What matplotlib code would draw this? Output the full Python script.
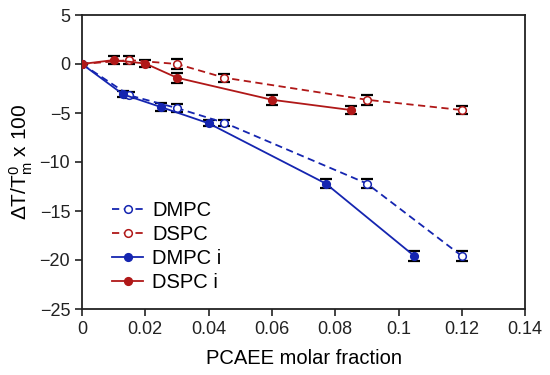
import matplotlib.pyplot as plt

plt.rcParams['font.family'] = ['Liberation Sans', 'DejaVu Sans']
plt.rcParams['mathtext.fontset'] = 'custom'
plt.rcParams['mathtext.rm'] = 'Liberation Sans'
plt.rcParams['mathtext.it'] = 'Liberation Sans'

# data
x_dmpc = [0, 0.015, 0.03, 0.045, 0.09, 0.12]
y_dmpc = [0, -3.2, -4.5, -6.0, -12.2, -19.6]
e_dmpc = [0, 0.3, 0.4, 0.3, 0.5, 0.5]

x_dspc = [0, 0.015, 0.03, 0.045, 0.09, 0.12]
y_dspc = [0, 0.4, 0.0, -1.4, -3.65, -4.7]
e_dspc = [0, 0.4, 0.5, 0.4, 0.5, 0.4]

x_dmpc_i = [0, 0.013, 0.025, 0.04, 0.077, 0.105]
y_dmpc_i = [0, -3.1, -4.4, -6.05, -12.2, -19.6]
e_dmpc_i = [0, 0.3, 0.4, 0.3, 0.5, 0.5]

x_dspc_i = [0, 0.01, 0.02, 0.03, 0.06, 0.085]
y_dspc_i = [0, 0.4, 0.05, -1.4, -3.65, -4.7]
e_dspc_i = [0, 0.4, 0.4, 0.5, 0.5, 0.4]

blue = '#1525b0'
red = '#b01818'

fig = plt.figure(figsize=(5.5, 3.75), dpi=100)
ax = fig.add_axes([0.149, 0.176, 0.806, 0.784])

def series(x, y, e, color, ls, filled, label):
    ax.errorbar(x, y, yerr=e, fmt='none', ecolor='black', elinewidth=1.2,
                capsize=4.5, capthick=1.6, zorder=2)
    ax.plot(x, y, ls=ls, color=color, lw=1.3, marker='o', markersize=5.5,
            markerfacecolor=color if filled else 'white',
            markeredgecolor=color, markeredgewidth=1.1, label=label,
            dashes=(4, 2.5) if ls == '--' else (None, None), zorder=3)

series(x_dmpc, y_dmpc, e_dmpc, blue, '--', False, 'DMPC')
series(x_dspc, y_dspc, e_dspc, red, '--', False, 'DSPC')
series(x_dmpc_i, y_dmpc_i, e_dmpc_i, blue, '-', True, 'DMPC i')
series(x_dspc_i, y_dspc_i, e_dspc_i, red, '-', True, 'DSPC i')

ax.set_xlim(0, 0.14)
ax.set_ylim(-25, 5)
ax.set_xticks([0, 0.02, 0.04, 0.06, 0.08, 0.1, 0.12, 0.14])
ax.set_xticklabels(['0', '0.02', '0.04', '0.06', '0.08', '0.1', '0.12', '0.14'])
ax.set_yticks([5, 0, -5, -10, -15, -20, -25])
ax.set_yticklabels(['5', '0', '\u22125', '\u221210', '\u221215', '\u221220', '\u221225'])
ax.tick_params(direction='out', length=5, width=1.2, labelsize=13, colors='#222222')
for s in ax.spines.values():
    s.set_linewidth(1.3)
    s.set_color('#222222')

ax.set_xlabel('PCAEE molar fraction', fontsize=14.5, labelpad=8)
ax.set_ylabel(r'$\Delta$T/T$^{0}_{m}$ x 100', fontsize=15, labelpad=3)

ax.legend(loc='lower left', bbox_to_anchor=(0.068, 0.058), frameon=False,
          fontsize=14.5, handlelength=1.55, handletextpad=0.45,
          labelspacing=0.25, borderpad=0, borderaxespad=0)

plt.savefig('out.png', dpi=100)
